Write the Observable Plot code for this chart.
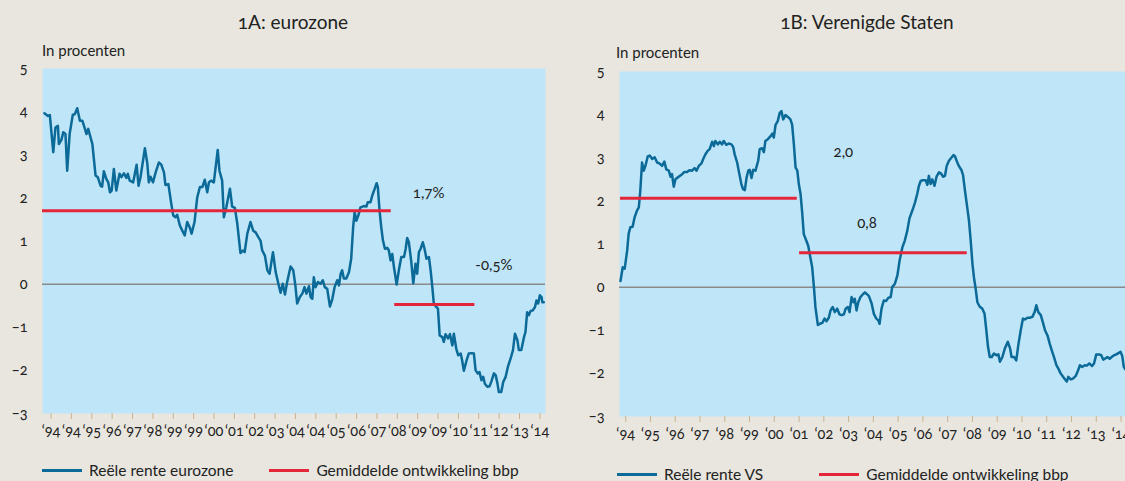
<!DOCTYPE html>
<html>
<head>
<meta charset="utf-8">
<script src="https://cdn.jsdelivr.net/npm/d3@7"></script>
<script src="https://cdn.jsdelivr.net/npm/@observablehq/plot@0.6"></script>
<style>
  html, body { margin: 0; padding: 0; }
  body { width: 1125px; height: 481px; background: #e8e6df; position: relative; overflow: hidden;
         font-family: Lato, "Noto Sans", sans-serif; color: #222; }
  body, body *, svg text { font-variant-numeric: oldstyle-nums !important; font-feature-settings: "onum" 1 !important; }
  .abs { position: absolute; }
  .title { font-size: 19px; transform: translateX(-50%); white-space: nowrap; }
  .unit { font-size: 15px; }
  .legend { font-size: 15.5px; display: flex; align-items: center; white-space: nowrap; }
  .sw { display: inline-block; width: 40px; height: 3px; margin-right: 7px; }
</style>
</head>
<body>
<div class="abs title" style="left:293px; top:10px;">1A: eurozone</div>
<div class="abs title" style="left:867px; top:10px;">1B: Verenigde Staten</div>
<div class="abs unit" style="left:42px; top:41px;">In procenten</div>
<div class="abs unit" style="left:616px; top:43px;">In procenten</div>
<div id="left" class="abs" style="left:0px; top:60px; width:560px;"></div>
<div id="right" class="abs" style="left:560px; top:62px; width:565px;"></div>
<div id="legLeft" class="abs legend" style="left:42px; top:461px;"></div>
<div id="legRight" class="abs legend" style="left:617px; top:465px;"></div>
<script>
// ---------- data ----------
const euroRate = [[1993.73,3.96],[1993.87,3.90],[1993.95,3.92],[1994.09,3.06],[1994.18,3.63],[1994.28,3.67],[1994.32,3.25],[1994.42,3.34],[1994.50,3.52],[1994.59,3.48],[1994.66,2.63],[1994.76,3.48],[1994.89,3.93],[1994.97,3.94],[1995.07,4.08],[1995.18,3.79],[1995.28,3.79],[1995.37,3.63],[1995.45,3.48],[1995.52,3.60],[1995.69,3.25],[1995.82,2.52],[1995.91,2.48],[1996.03,2.28],[1996.09,2.26],[1996.16,2.62],[1996.26,2.44],[1996.34,2.36],[1996.41,2.13],[1996.48,2.17],[1996.57,2.67],[1996.67,2.17],[1996.80,2.56],[1996.88,2.48],[1996.98,2.57],[1997.08,2.46],[1997.14,2.56],[1997.22,2.40],[1997.36,2.36],[1997.50,2.77],[1997.58,2.28],[1997.66,2.48],[1997.84,3.15],[1997.94,2.79],[1998.00,2.36],[1998.07,2.49],[1998.17,2.36],[1998.28,2.59],[1998.41,2.82],[1998.51,2.77],[1998.62,2.59],[1998.68,2.30],[1998.80,2.32],[1998.92,1.86],[1999.00,1.59],[1999.09,1.55],[1999.16,1.61],[1999.27,1.36],[1999.37,1.24],[1999.47,1.13],[1999.57,1.44],[1999.67,1.32],[1999.75,1.17],[1999.87,1.44],[1999.98,2.01],[2000.09,2.25],[2000.19,2.25],[2000.29,2.42],[2000.39,2.13],[2000.46,2.36],[2000.55,2.40],[2000.66,2.36],[2000.82,3.11],[2000.89,2.63],[2001.00,2.40],[2001.07,1.55],[2001.17,1.78],[2001.32,2.21],[2001.41,1.80],[2001.52,1.77],[2001.62,1.40],[2001.75,0.72],[2001.85,0.78],[2001.92,0.74],[2002.03,1.17],[2002.16,1.44],[2002.27,1.24],[2002.37,1.20],[2002.48,1.09],[2002.57,1.01],[2002.64,0.78],[2002.75,0.66],[2002.85,0.32],[2002.94,0.24],[2003.08,0.74],[2003.19,0.28],[2003.30,0.01],[2003.39,-0.20],[2003.48,0.01],[2003.57,-0.24],[2003.66,0.05],[2003.80,0.41],[2003.91,0.32],[2004.00,-0.05],[2004.07,-0.45],[2004.18,-0.30],[2004.28,-0.22],[2004.37,-0.07],[2004.45,-0.22],[2004.55,-0.05],[2004.62,-0.30],[2004.69,-0.34],[2004.75,0.16],[2004.82,-0.07],[2004.92,0.05],[2005.03,0.01],[2005.12,0.09],[2005.20,-0.07],[2005.30,-0.11],[2005.41,-0.52],[2005.51,-0.34],[2005.60,-0.07],[2005.71,0.09],[2005.78,-0.03],[2005.85,0.24],[2005.91,0.32],[2005.98,0.13],[2006.08,0.13],[2006.19,0.28],[2006.28,0.59],[2006.36,1.32],[2006.42,1.67],[2006.49,1.47],[2006.57,1.59],[2006.66,1.78],[2006.80,1.81],[2006.90,1.80],[2006.96,1.90],[2007.07,1.90],[2007.14,2.05],[2007.24,2.21],[2007.32,2.34],[2007.37,2.25],[2007.44,1.71],[2007.51,1.32],[2007.58,1.01],[2007.66,0.82],[2007.76,0.84],[2007.82,0.78],[2007.89,0.55],[2007.96,0.70],[2008.03,0.39],[2008.14,-0.01],[2008.23,0.32],[2008.33,0.63],[2008.44,0.63],[2008.51,0.82],[2008.57,1.07],[2008.64,0.97],[2008.74,0.51],[2008.82,0.02],[2008.91,0.47],[2008.98,0.24],[2009.05,0.74],[2009.12,0.82],[2009.21,0.97],[2009.28,0.82],[2009.36,0.59],[2009.46,0.63],[2009.53,0.32],[2009.60,-0.07],[2009.66,-0.45],[2009.76,-0.53],[2009.83,-0.57],[2009.90,-1.19],[2010.01,-1.23],[2010.07,-1.34],[2010.14,-1.16],[2010.24,-1.26],[2010.32,-1.16],[2010.42,-1.42],[2010.48,-1.15],[2010.58,-1.50],[2010.66,-1.65],[2010.76,-1.61],[2010.82,-1.77],[2010.89,-2.01],[2011.00,-1.77],[2011.09,-1.61],[2011.21,-1.60],[2011.30,-1.61],[2011.37,-2.00],[2011.46,-2.07],[2011.53,-2.04],[2011.61,-2.23],[2011.68,-2.15],[2011.75,-2.31],[2011.85,-2.38],[2011.94,-2.37],[2012.02,-2.25],[2012.12,-2.07],[2012.19,-2.11],[2012.26,-2.29],[2012.32,-2.50],[2012.42,-2.50],[2012.50,-2.27],[2012.60,-2.15],[2012.69,-1.92],[2012.80,-1.73],[2012.90,-1.53],[2012.98,-1.15],[2013.08,-1.30],[2013.14,-1.53],[2013.24,-1.53],[2013.35,-1.23],[2013.41,-1.11],[2013.48,-0.65],[2013.55,-0.72],[2013.62,-0.62],[2013.71,-0.61],[2013.80,-0.53],[2013.86,-0.38],[2013.93,-0.45],[2014.00,-0.26],[2014.07,-0.30],[2014.10,-0.42],[2014.16,-0.42]];

const usRate = [[1993.79,0.14],[1993.88,0.46],[1993.96,0.43],[1994.06,0.85],[1994.12,1.24],[1994.19,1.39],[1994.28,1.40],[1994.36,1.62],[1994.46,1.78],[1994.53,1.85],[1994.59,2.24],[1994.66,2.89],[1994.73,2.70],[1994.80,2.82],[1994.89,3.03],[1994.97,3.05],[1995.07,2.97],[1995.17,3.01],[1995.27,2.89],[1995.36,2.87],[1995.47,2.81],[1995.56,2.91],[1995.64,2.73],[1995.74,2.70],[1995.81,2.56],[1995.87,2.62],[1995.94,2.33],[1996.01,2.50],[1996.14,2.56],[1996.28,2.62],[1996.37,2.67],[1996.48,2.67],[1996.57,2.71],[1996.68,2.70],[1996.78,2.76],[1996.86,2.70],[1996.95,2.81],[1997.06,2.87],[1997.13,2.97],[1997.22,3.08],[1997.31,3.16],[1997.39,3.20],[1997.49,3.37],[1997.56,3.27],[1997.62,3.39],[1997.72,3.31],[1997.80,3.37],[1997.89,3.31],[1997.96,3.39],[1998.06,3.30],[1998.16,3.33],[1998.27,3.31],[1998.34,3.25],[1998.40,3.08],[1998.50,2.89],[1998.59,2.62],[1998.67,2.39],[1998.74,2.27],[1998.81,2.25],[1998.88,2.54],[1998.95,2.70],[1999.01,2.72],[1999.08,2.53],[1999.15,2.72],[1999.24,2.70],[1999.35,2.93],[1999.41,3.20],[1999.51,3.22],[1999.58,3.13],[1999.64,3.39],[1999.74,3.43],[1999.85,3.50],[1999.92,3.56],[1999.98,3.47],[2000.05,3.76],[2000.14,3.85],[2000.22,4.04],[2000.29,4.08],[2000.36,3.89],[2000.45,3.99],[2000.56,3.94],[2000.65,3.89],[2000.72,3.77],[2000.79,3.31],[2000.86,2.77],[2000.93,2.70],[2000.99,2.39],[2001.06,2.16],[2001.13,1.70],[2001.19,1.23],[2001.29,1.08],[2001.37,0.96],[2001.43,0.77],[2001.53,0.46],[2001.60,0.00],[2001.66,-0.46],[2001.76,-0.88],[2001.84,-0.85],[2001.94,-0.83],[2002.03,-0.73],[2002.11,-0.79],[2002.20,-0.71],[2002.27,-0.54],[2002.36,-0.46],[2002.44,-0.58],[2002.54,-0.50],[2002.63,-0.63],[2002.72,-0.65],[2002.81,-0.63],[2002.88,-0.50],[2002.97,-0.46],[2003.04,-0.58],[2003.12,-0.23],[2003.19,-0.35],[2003.25,-0.27],[2003.32,-0.54],[2003.39,-0.35],[2003.48,-0.23],[2003.57,-0.17],[2003.66,-0.12],[2003.75,-0.17],[2003.82,-0.21],[2003.93,-0.38],[2004.02,-0.62],[2004.12,-0.73],[2004.20,-0.77],[2004.25,-0.85],[2004.33,-0.50],[2004.42,-0.31],[2004.52,-0.32],[2004.60,-0.25],[2004.70,-0.23],[2004.76,0.00],[2004.87,0.08],[2004.97,0.27],[2005.06,0.62],[2005.17,0.92],[2005.27,1.08],[2005.37,1.31],[2005.46,1.60],[2005.57,1.77],[2005.68,1.96],[2005.77,2.16],[2005.84,2.35],[2005.91,2.46],[2006.00,2.48],[2006.11,2.48],[2006.18,2.37],[2006.24,2.58],[2006.31,2.39],[2006.38,2.50],[2006.47,2.35],[2006.55,2.56],[2006.65,2.66],[2006.74,2.63],[2006.82,2.56],[2006.89,2.58],[2006.96,2.81],[2007.05,2.93],[2007.15,3.00],[2007.23,3.06],[2007.29,3.04],[2007.36,2.93],[2007.45,2.81],[2007.56,2.71],[2007.62,2.60],[2007.70,2.23],[2007.79,1.85],[2007.86,1.54],[2007.93,1.08],[2008.00,0.54],[2008.06,0.23],[2008.13,-0.04],[2008.20,-0.35],[2008.29,-0.45],[2008.40,-0.50],[2008.49,-0.62],[2008.56,-1.00],[2008.63,-1.39],[2008.70,-1.62],[2008.78,-1.62],[2008.87,-1.54],[2008.97,-1.58],[2009.05,-1.56],[2009.11,-1.73],[2009.21,-1.62],[2009.31,-1.42],[2009.43,-1.27],[2009.52,-1.42],[2009.58,-1.62],[2009.68,-1.62],[2009.77,-1.70],[2009.85,-1.35],[2009.95,-1.00],[2010.04,-0.73],[2010.12,-0.75],[2010.22,-0.71],[2010.32,-0.71],[2010.42,-0.69],[2010.51,-0.58],[2010.58,-0.42],[2010.66,-0.58],[2010.76,-0.65],[2010.85,-0.83],[2010.93,-1.00],[2011.03,-1.12],[2011.12,-1.31],[2011.20,-1.46],[2011.29,-1.62],[2011.39,-1.81],[2011.47,-1.89],[2011.56,-2.00],[2011.66,-2.08],[2011.74,-2.14],[2011.81,-2.19],[2011.87,-2.08],[2011.97,-2.14],[2012.06,-2.12],[2012.17,-2.06],[2012.26,-1.94],[2012.34,-1.81],[2012.43,-1.85],[2012.53,-1.81],[2012.62,-1.82],[2012.72,-1.77],[2012.83,-1.83],[2012.91,-1.77],[2013.00,-1.56],[2013.11,-1.56],[2013.20,-1.58],[2013.28,-1.68],[2013.35,-1.66],[2013.45,-1.62],[2013.54,-1.66],[2013.62,-1.62],[2013.72,-1.58],[2013.81,-1.56],[2013.89,-1.53],[2013.98,-1.50],[2014.05,-1.60],[2014.11,-1.85],[2014.18,-1.91]];

// average GDP growth segments [from, to, value]
const euroAvg = [[1993.65, 2007.92, 1.70], [2008.06, 2011.34, -0.47]];
const usAvg = [[1993.79, 2000.93, 2.06], [2001.02, 2007.79, 0.80]];

// annotations [x, y, text]
const euroNotes = [[2009.45, 2.12, "1,7%"], [2012.12, 0.43, "-0,5%"]];
const usNotes = [[2002.79, 3.12, "2,0"], [2003.74, 1.49, "0,8"]];

const euroTickLabels = ["‘94","‘94","‘95","‘96","‘97","‘98","‘99","‘99","‘00","‘01","‘02","‘03","‘04","‘04","‘05","‘06","‘07","‘08","‘09","‘09","‘10","‘11","‘12","‘13","‘14"];
const usTickLabels = ["‘94","‘95","‘96","‘97","‘98","‘99","‘00","‘01","‘02","‘03","‘04","‘05","‘06","‘07","‘08","‘09","‘10","‘11","‘12","‘13","‘14"];
const yTicks = [-3, -2, -1, 0, 1, 2, 3, 4, 5];

const legendLeft = ["Reële rente eurozone", "Gemiddelde ontwikkeling bbp"];
const legendRight = ["Reële rente VS", "Gemiddelde ontwikkeling bbp"];

// ---------- style ----------
const BLUE = "#0b6a98", RED = "#e3263a", PANEL = "#bfe6f8", ZERO = "#8a8a8a", TICK = "#c9b491";

// euro ticks every 10 months from Jan 1994; US ticks every year
const euroTicks = euroTickLabels.map((_, i) => 1994 + i * 10 / 12);
const usTicks = usTickLabels.map((_, i) => 1994 + i);

function panel({series, avg, notes, ticks, labels, domain, width, height, marginLeft, marginRight, marginTop, marginBottom}) {
  const lab = new Map(ticks.map((t, i) => [t, labels[i]]));
  return Plot.plot({
    width, height, marginLeft, marginRight, marginTop, marginBottom,
    x: {domain},
    y: {domain: [-3, 5]},
    style: {background: "transparent", fontFamily: "Lato, 'Noto Sans', sans-serif", fontSize: "14px", color: "#222", overflow: "visible"},
    marks: [
      Plot.frame({fill: PANEL, stroke: "none"}),
      Plot.ruleY([0], {stroke: ZERO, strokeWidth: 1.5}),
      Plot.line(series, {x: d => d[0], y: d => d[1], stroke: BLUE, strokeWidth: 2.5, strokeLinejoin: "round"}),
      Plot.ruleY(avg, {x1: d => d[0], x2: d => d[1], y: d => d[2], stroke: RED, strokeWidth: 3}),
      Plot.text(notes, {x: d => d[0], y: d => d[1], text: d => d[2], fontSize: 15, fill: "#222"}),
      Plot.axisX(ticks, {tickSize: 6, tickPadding: 6, stroke: TICK, fill: "#222", tickFormat: d => lab.get(d), fontSize: 14.5}),
      Plot.axisY(yTicks, {tickSize: 0, tickPadding: 15, fill: "#222", fontSize: 14.5})
    ]
  });
}

document.getElementById("left").append(panel({
  series: euroRate, avg: euroAvg, notes: euroNotes, ticks: euroTicks, labels: euroTickLabels,
  domain: [1993.65, 2014.23], width: 560, height: 383, marginLeft: 42, marginRight: 15, marginTop: 8, marginBottom: 30
}));
document.getElementById("right").append(panel({
  series: usRate, avg: usAvg, notes: usNotes, ticks: usTicks, labels: usTickLabels,
  domain: [1993.75, 2014.18], width: 565, height: 384, marginLeft: 59, marginRight: 0, marginTop: 9, marginBottom: 30
}));

function legend(el, names, gap) {
  [BLUE, RED].forEach((c, i) => {
    const item = document.createElement("span");
    item.style.display = "inline-flex";
    item.style.alignItems = "center";
    if (i === 1) item.style.marginLeft = gap + "px";
    const sw = document.createElement("span");
    sw.className = "sw";
    sw.style.background = c;
    item.append(sw, document.createTextNode(names[i]));
    el.append(item);
  });
}
legend(document.getElementById("legLeft"), legendLeft, 36);
legend(document.getElementById("legRight"), legendRight, 56);
</script>
</body>
</html>
